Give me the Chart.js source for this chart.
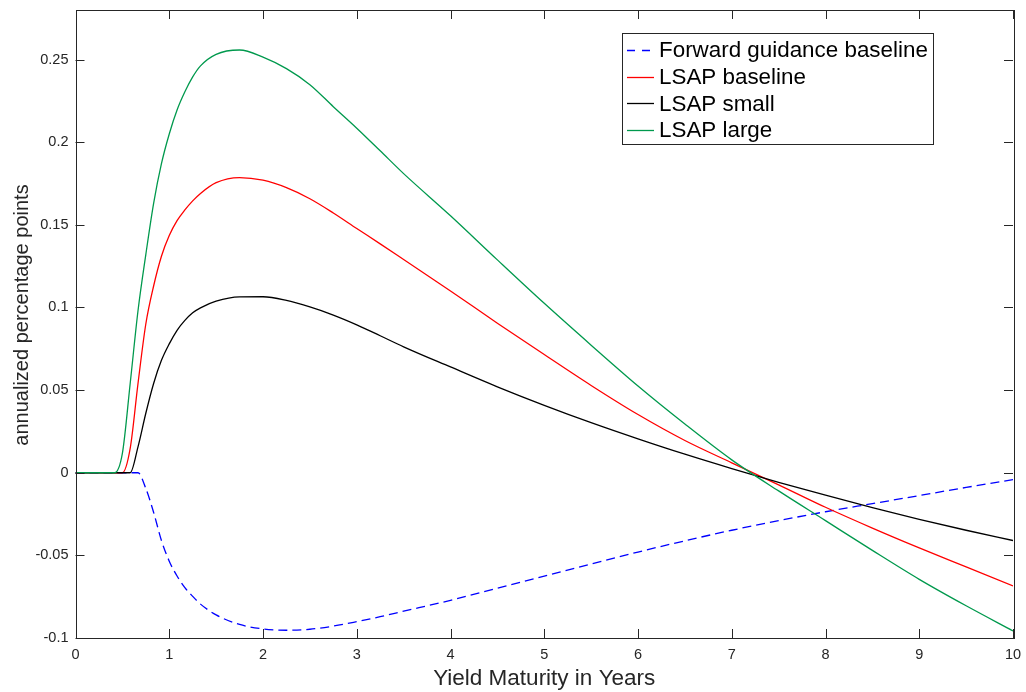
<!DOCTYPE html>
<html>
<head>
    <meta charset="utf-8">
    <script src="https://cdn.jsdelivr.net/npm/chart.js"></script>
    <style>
        body { margin: 0; background: white; }
    </style>
</head>
<body>
    <canvas id="chart" width="1026" height="692"></canvas>
    <script>
        // maturities in years (monthly near the start, coarser later)
        const maturities = [0, 0.25, 0.4167, 0.5, 0.5833, 0.6667, 0.75, 0.8333, 0.9167, 1, 1.0833, 1.1667, 1.25, 1.3333,
            1.5, 1.75, 2, 2.25, 2.5, 2.75, 3, 3.25, 3.5, 4, 4.5, 5, 5.5, 6, 6.5, 7, 7.5, 8, 8.5, 9, 9.5, 10];

        const forwardGuidance = [0, 0, 0, 0, 0, 0, -0.0095, -0.024, -0.041, -0.0535, -0.0625, -0.0695, -0.0748, -0.0795,
            -0.086, -0.0918, -0.0945, -0.0953, -0.0947, -0.0928, -0.0901, -0.0871, -0.0838, -0.0772, -0.0699, -0.0626,
            -0.0553, -0.048, -0.0412, -0.0348, -0.029, -0.0236, -0.0187, -0.0138, -0.0089, -0.0042];

        const lsapBaseline = [0, 0, 0, 0, 0.0147, 0.054, 0.090, 0.113, 0.131, 0.1435, 0.1525, 0.159, 0.1645, 0.169,
            0.1755, 0.1786, 0.177, 0.1725, 0.1658, 0.1572, 0.1478, 0.1385, 0.129, 0.110, 0.0905, 0.0715, 0.0528, 0.0352,
            0.0195, 0.0060, -0.0073, -0.0209, -0.0335, -0.0455, -0.057, -0.0685];

        const lsapSmall = [0, 0, 0, 0, 0, 0.0157, 0.036, 0.054, 0.068, 0.078, 0.0862, 0.0922, 0.0968, 0.0998,
            0.1038, 0.1064, 0.1065, 0.1043, 0.1003, 0.0954, 0.0895, 0.0829, 0.0762, 0.0640, 0.0520, 0.0408, 0.0303,
            0.0205, 0.0112, 0.0025, -0.0058, -0.0136, -0.0211, -0.0282, -0.0348, -0.0410];

        const lsapLarge = [0, 0, 0, 0.0117, 0.054, 0.098, 0.132, 0.163, 0.187, 0.205, 0.2195, 0.2305, 0.2395, 0.2462,
            0.2532, 0.2558, 0.2515, 0.2445, 0.2348, 0.2215, 0.2085, 0.1948, 0.181, 0.1555, 0.1288, 0.1025, 0.0772, 0.0525,
            0.0295, 0.0078, -0.011, -0.029, -0.047, -0.0645, -0.0805, -0.0957];

        const xTicks = [0, 1, 2, 3, 4, 5, 6, 7, 8, 9, 10];
        const yTicks = [-0.1, -0.05, 0, 0.05, 0.1, 0.15, 0.2, 0.25];
        const yTickLabels = ["-0.1", "-0.05", "0", "0.05", "0.1", "0.15", "0.2", "0.25"];
        const yTitle = "annualized percentage points";

        const axisColor = "#262626";
        const fontFamily = "'Liberation Sans', Arial, sans-serif";

        function series(values) {
            return maturities.map((m, i) => ({ x: m, y: values[i] }));
        }

        // MATLAB style box with inward ticks on all four sides, y label and the legend box
        const boxPlugin = {
            id: "matlabBox",
            afterDatasetsDraw(chart) {
                const ctx = chart.ctx;
                const a = chart.chartArea;
                const xs = chart.scales.x;
                const ys = chart.scales.y;
                const len = 9;
                ctx.save();
                ctx.strokeStyle = axisColor;
                ctx.lineWidth = 1;
                ctx.beginPath();
                for (const t of xTicks) {
                    const px = Math.round(xs.getPixelForValue(t)) + 0.5;
                    ctx.moveTo(px, a.bottom); ctx.lineTo(px, a.bottom - len);
                    ctx.moveTo(px, a.top); ctx.lineTo(px, a.top + len);
                }
                for (const t of yTicks) {
                    const py = Math.round(ys.getPixelForValue(t)) + 0.5;
                    ctx.moveTo(a.left, py); ctx.lineTo(a.left + len, py);
                    ctx.moveTo(a.right, py); ctx.lineTo(a.right - len, py);
                }
                ctx.stroke();
                ctx.strokeRect(Math.round(a.left) + 0.5, Math.round(a.top) + 0.5,
                    Math.round(a.right - a.left), Math.round(a.bottom - a.top));

                // y label, sits a little above the axis centre like the original
                ctx.save();
                ctx.translate(22, (a.top + a.bottom) / 2 - 9);
                ctx.rotate(-Math.PI / 2);
                ctx.font = "20px " + fontFamily;
                ctx.fillStyle = axisColor;
                ctx.textAlign = "center";
                ctx.textBaseline = "middle";
                ctx.fillText(yTitle, 0, 0);
                ctx.restore();

                // legend
                const lx = 622.5, ly = 33.5, lw = 311, lh = 111;
                ctx.fillStyle = "white";
                ctx.fillRect(lx, ly, lw, lh);
                ctx.strokeRect(lx, ly, lw, lh);
                ctx.font = "22.4px " + fontFamily;
                ctx.textBaseline = "middle";
                chart.data.datasets.forEach((ds, i) => {
                    const cy = 50 + i * 26.7;
                    ctx.strokeStyle = ds.borderColor;
                    ctx.lineWidth = 1.3;
                    ctx.setLineDash(ds.borderDash ? [8, 7] : []);
                    ctx.beginPath();
                    ctx.moveTo(627, Math.round(cy) + 0.5);
                    ctx.lineTo(654, Math.round(cy) + 0.5);
                    ctx.stroke();
                    ctx.setLineDash([]);
                    ctx.fillStyle = "black";
                    ctx.fillText(ds.label, 659, cy + 1);
                });
                ctx.restore();
            }
        };

        new Chart(document.getElementById("chart").getContext("2d"), {
            type: "line",
            data: {
                datasets: [
                    {
                        label: "Forward guidance baseline",
                        data: series(forwardGuidance),
                        borderColor: "#0000ff",
                        borderDash: [9, 5],
                        order: 4,
                    },
                    {
                        label: "LSAP baseline",
                        data: series(lsapBaseline),
                        borderColor: "#ff0000",
                        order: 3,
                    },
                    {
                        label: "LSAP small",
                        data: series(lsapSmall),
                        borderColor: "#000000",
                        order: 2,
                    },
                    {
                        label: "LSAP large",
                        data: series(lsapLarge),
                        borderColor: "#00994d",
                        order: 1,
                    },
                ],
            },
            options: {
                responsive: false,
                animation: false,
                layout: { padding: { left: 0, right: 13, top: 10, bottom: 0 } },
                elements: {
                    point: { radius: 0 },
                    line: { borderWidth: 1.3, cubicInterpolationMode: "monotone", fill: false },
                },
                plugins: {
                    legend: { display: false },
                    tooltip: { enabled: false },
                },
                scales: {
                    x: {
                        type: "linear",
                        min: 0,
                        max: 10,
                        grid: { display: false, drawTicks: false },
                        border: { display: false },
                        afterBuildTicks: (s) => { s.ticks = xTicks.map(v => ({ value: v })); },
                        afterFit: (s) => { s.height = 54; s.paddingLeft = 0; s.paddingRight = 0; },
                        ticks: {
                            color: axisColor,
                            font: { family: fontFamily, size: 14.5 },
                            padding: 8,
                            maxRotation: 0,
                            callback: (v) => String(v),
                        },
                        title: {
                            display: true,
                            text: "Yield Maturity in Years",
                            color: axisColor,
                            font: { family: fontFamily, size: 22.5 },
                            padding: { top: 0, bottom: 0 },
                        },
                    },
                    y: {
                        type: "linear",
                        min: -0.1,
                        max: 0.28,
                        grid: { display: false, drawTicks: false },
                        border: { display: false },
                        afterBuildTicks: (s) => { s.ticks = yTicks.map(v => ({ value: v })); },
                        afterFit: (s) => { s.width = 75.5; s.paddingTop = 0; s.paddingBottom = 0; },
                        ticks: {
                            color: axisColor,
                            font: { family: fontFamily, size: 14.5 },
                            padding: 7,
                            callback: (v) => {
                                const i = yTicks.findIndex(t => Math.abs(t - v) < 1e-9);
                                return i >= 0 ? yTickLabels[i] : "";
                            },
                        },
                    },
                },
            },
            plugins: [boxPlugin],
        });
    </script>
</body>
</html>
